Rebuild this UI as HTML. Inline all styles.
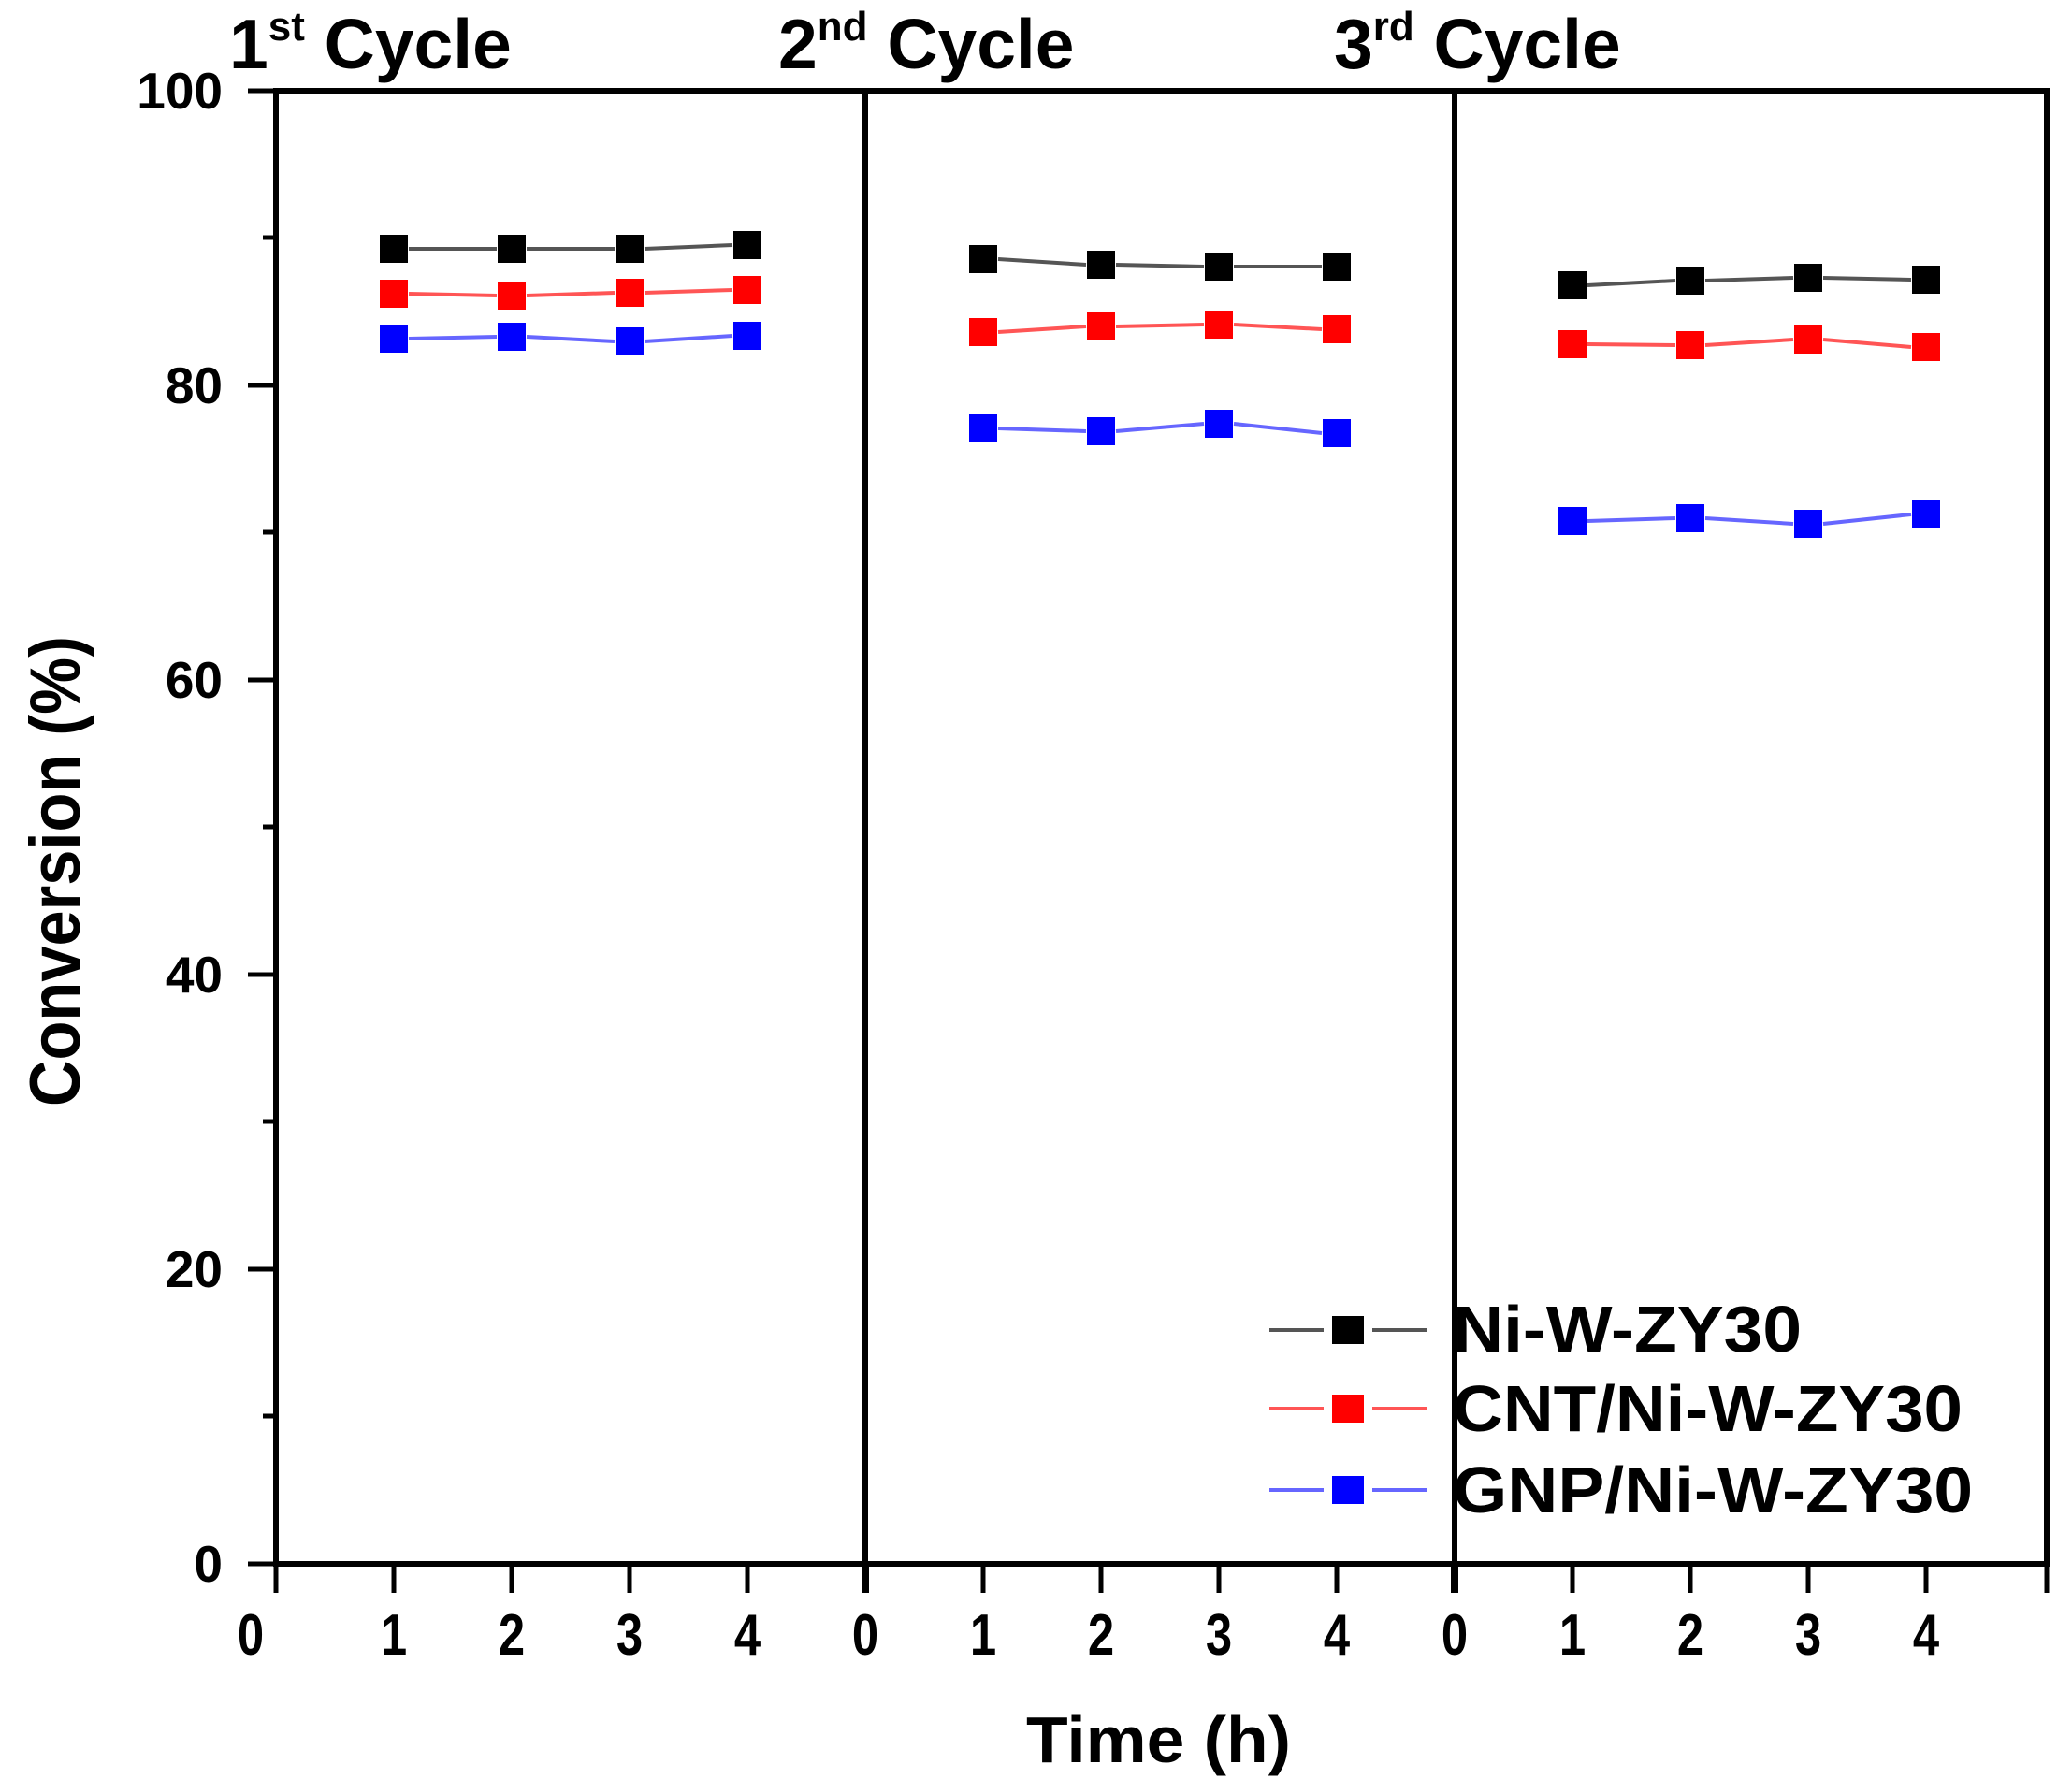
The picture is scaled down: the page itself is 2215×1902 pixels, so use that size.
<!DOCTYPE html>
<html><head><meta charset="utf-8"><style>html,body{margin:0;padding:0;background:#fff}svg{display:block}</style></head>
<body>
<svg width="2215" height="1902" viewBox="0 0 2215 1902" xmlns="http://www.w3.org/2000/svg" font-family="Liberation Sans, Arial, sans-serif" font-weight="bold">
<rect width="2215" height="1902" fill="#fff"/>
<g stroke="#000" stroke-width="6" fill="none">
<rect x="295" y="97" width="1893" height="1575"/>
<line x1="925" y1="97" x2="925" y2="1672"/>
<line x1="1555" y1="97" x2="1555" y2="1672"/>
</g>
<g stroke="#000" stroke-width="5">
<line x1="265" y1="1672" x2="295" y2="1672"/><line x1="265" y1="1357" x2="295" y2="1357"/><line x1="265" y1="1042" x2="295" y2="1042"/><line x1="265" y1="727" x2="295" y2="727"/><line x1="265" y1="412" x2="295" y2="412"/><line x1="265" y1="97" x2="295" y2="97"/>
<line x1="281" y1="1514" x2="295" y2="1514"/><line x1="281" y1="1199" x2="295" y2="1199"/><line x1="281" y1="884" x2="295" y2="884"/><line x1="281" y1="569" x2="295" y2="569"/><line x1="281" y1="254" x2="295" y2="254"/>
</g>
<g stroke="#000" stroke-width="5">
<line x1="295" y1="1672" x2="295" y2="1703"/><line x1="421" y1="1672" x2="421" y2="1703"/><line x1="547" y1="1672" x2="547" y2="1703"/><line x1="673" y1="1672" x2="673" y2="1703"/><line x1="799" y1="1672" x2="799" y2="1703"/>
<line x1="925" y1="1672" x2="925" y2="1703" stroke-width="8"/><line x1="1051" y1="1672" x2="1051" y2="1703"/><line x1="1177" y1="1672" x2="1177" y2="1703"/><line x1="1303" y1="1672" x2="1303" y2="1703"/><line x1="1429" y1="1672" x2="1429" y2="1703"/>
<line x1="1555" y1="1672" x2="1555" y2="1703" stroke-width="8"/><line x1="1681" y1="1672" x2="1681" y2="1703"/><line x1="1807" y1="1672" x2="1807" y2="1703"/><line x1="1933" y1="1672" x2="1933" y2="1703"/><line x1="2059" y1="1672" x2="2059" y2="1703"/><line x1="2188" y1="1672" x2="2188" y2="1703"/>
</g>
<g font-size="55" text-anchor="end" fill="#000">
<text x="238" y="1691">0</text><text x="238" y="1376">20</text><text x="238" y="1061">40</text><text x="238" y="746">60</text><text x="238" y="431">80</text><text x="238" y="116">100</text>
</g>
<g font-size="62" text-anchor="middle" fill="#000">
<text transform="translate(268 1769) scale(0.82 1)">0</text><text transform="translate(421 1769) scale(0.82 1)">1</text><text transform="translate(547 1769) scale(0.82 1)">2</text><text transform="translate(673 1769) scale(0.82 1)">3</text><text transform="translate(799 1769) scale(0.82 1)">4</text>
<text transform="translate(925 1769) scale(0.82 1)">0</text><text transform="translate(1051 1769) scale(0.82 1)">1</text><text transform="translate(1177 1769) scale(0.82 1)">2</text><text transform="translate(1303 1769) scale(0.82 1)">3</text><text transform="translate(1429 1769) scale(0.82 1)">4</text>
<text transform="translate(1555 1769) scale(0.82 1)">0</text><text transform="translate(1681 1769) scale(0.82 1)">1</text><text transform="translate(1807 1769) scale(0.82 1)">2</text><text transform="translate(1933 1769) scale(0.82 1)">3</text><text transform="translate(2059 1769) scale(0.82 1)">4</text>
</g>
<text x="1097" y="1884" font-size="70" textLength="283" lengthAdjust="spacingAndGlyphs">Time (h)</text>
<text transform="translate(85 1183) rotate(-90)" font-size="76" textLength="503" lengthAdjust="spacingAndGlyphs">Conversion (%)</text>
<g font-size="75">
<text x="245" y="73">1<tspan font-size="44" dy="-30">st</tspan><tspan dy="30"> Cycle</tspan></text>
<text x="832" y="73">2<tspan font-size="44" dy="-30">nd</tspan><tspan dy="30"> Cycle</tspan></text>
<text x="1426" y="73">3<tspan font-size="44" dy="-30">rd</tspan><tspan dy="30"> Cycle</tspan></text>
</g>
<g stroke-width="4" fill="none">
<polyline stroke="#555" points="437,266 531,266"/><polyline stroke="#555" points="563,266 657,266"/><polyline stroke="#555" points="689,266 783,262"/>
<polyline stroke="#f55" points="437,314 531,316"/><polyline stroke="#f55" points="563,316 657,313"/><polyline stroke="#f55" points="689,313 783,310"/>
<polyline stroke="#66f" points="437,362 531,360"/><polyline stroke="#66f" points="563,360 657,365"/><polyline stroke="#66f" points="689,365 783,359"/>
<polyline stroke="#555" points="1067,277 1161,283"/><polyline stroke="#555" points="1193,283 1287,285"/><polyline stroke="#555" points="1319,285 1413,285"/>
<polyline stroke="#f55" points="1067,355 1161,349"/><polyline stroke="#f55" points="1193,349 1287,347"/><polyline stroke="#f55" points="1319,347 1413,352"/>
<polyline stroke="#66f" points="1067,458 1161,461"/><polyline stroke="#66f" points="1193,461 1287,453"/><polyline stroke="#66f" points="1319,453 1413,463"/>
<polyline stroke="#555" points="1697,305 1791,300"/><polyline stroke="#555" points="1823,300 1917,297"/><polyline stroke="#555" points="1949,297 2043,299"/>
<polyline stroke="#f55" points="1697,368 1791,369"/><polyline stroke="#f55" points="1823,369 1917,363"/><polyline stroke="#f55" points="1949,363 2043,371"/>
<polyline stroke="#66f" points="1697,557 1791,554"/><polyline stroke="#66f" points="1823,554 1917,560"/><polyline stroke="#66f" points="1949,560 2043,550"/>
</g>
<g>
<g fill="#000"><rect x="406" y="251" width="30" height="30"/><rect x="532" y="251" width="30" height="30"/><rect x="658" y="251" width="30" height="30"/><rect x="784" y="247" width="30" height="30"/>
<rect x="1036" y="262" width="30" height="30"/><rect x="1162" y="268" width="30" height="30"/><rect x="1288" y="270" width="30" height="30"/><rect x="1414" y="270" width="30" height="30"/>
<rect x="1666" y="290" width="30" height="30"/><rect x="1792" y="285" width="30" height="30"/><rect x="1918" y="282" width="30" height="30"/><rect x="2044" y="284" width="30" height="30"/></g>
<g fill="#f00"><rect x="406" y="299" width="30" height="30"/><rect x="532" y="301" width="30" height="30"/><rect x="658" y="298" width="30" height="30"/><rect x="784" y="295" width="30" height="30"/>
<rect x="1036" y="340" width="30" height="30"/><rect x="1162" y="334" width="30" height="30"/><rect x="1288" y="332" width="30" height="30"/><rect x="1414" y="337" width="30" height="30"/>
<rect x="1666" y="353" width="30" height="30"/><rect x="1792" y="354" width="30" height="30"/><rect x="1918" y="348" width="30" height="30"/><rect x="2044" y="356" width="30" height="30"/></g>
<g fill="#00f"><rect x="406" y="347" width="30" height="30"/><rect x="532" y="345" width="30" height="30"/><rect x="658" y="350" width="30" height="30"/><rect x="784" y="344" width="30" height="30"/>
<rect x="1036" y="443" width="30" height="30"/><rect x="1162" y="446" width="30" height="30"/><rect x="1288" y="438" width="30" height="30"/><rect x="1414" y="448" width="30" height="30"/>
<rect x="1666" y="542" width="30" height="30"/><rect x="1792" y="539" width="30" height="30"/><rect x="1918" y="545" width="30" height="30"/><rect x="2044" y="535" width="30" height="30"/></g>
</g>
<g stroke-width="4">
<line x1="1357" y1="1422" x2="1415" y2="1422" stroke="#555"/><line x1="1467" y1="1422" x2="1525" y2="1422" stroke="#555"/>
<line x1="1357" y1="1506" x2="1415" y2="1506" stroke="#f55"/><line x1="1467" y1="1506" x2="1525" y2="1506" stroke="#f55"/>
<line x1="1357" y1="1593" x2="1415" y2="1593" stroke="#66f"/><line x1="1467" y1="1593" x2="1525" y2="1593" stroke="#66f"/>
</g>
<rect x="1424" y="1407" width="34" height="30" fill="#000"/>
<rect x="1424" y="1491" width="34" height="30" fill="#f00"/>
<rect x="1424" y="1578" width="34" height="30" fill="#00f"/>
<g font-size="70" fill="#000">
<text x="1553" y="1445" textLength="373" lengthAdjust="spacingAndGlyphs">Ni-W-ZY30</text>
<text x="1553" y="1530" textLength="545" lengthAdjust="spacingAndGlyphs">CNT/Ni-W-ZY30</text>
<text x="1553" y="1617" textLength="556" lengthAdjust="spacingAndGlyphs">GNP/Ni-W-ZY30</text>
</g>
</svg>
</body></html>
